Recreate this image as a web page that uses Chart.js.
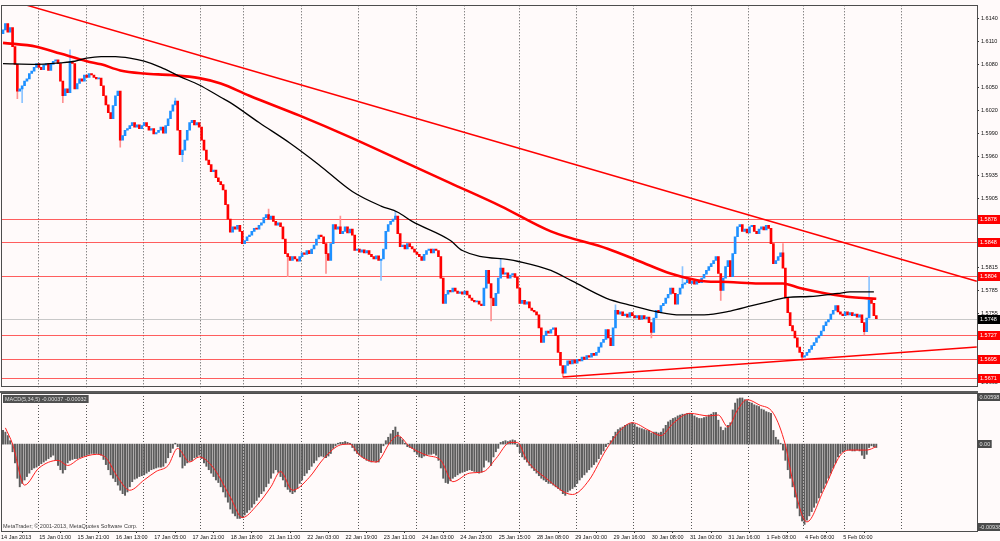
<!DOCTYPE html>
<html>
<head>
<meta charset="utf-8">
<script src="https://cdn.jsdelivr.net/npm/chart.js@4.4.1/dist/chart.umd.min.js"></script>
<style>
  body { margin: 0; background: #fffafa; }
  #wrap { position: relative; width: 1000px; height: 541px; overflow: hidden; }
  #priceChart { position: absolute; left: 0; top: 0; }
  #macdChart { position: absolute; left: 0; top: 391px; }
</style>
</head>
<body>
<div id="wrap">
  <canvas id="priceChart" width="1000" height="393"></canvas>
  <canvas id="macdChart" width="1000" height="150"></canvas>
</div>
<script>
// GBPUSD H1 closes, one per bar starting 14 Jan 2013
var firstOpen = 1.6120;
var closes = [
  1.6125, 1.6133, 1.6122, 1.6128, 1.6103, 1.6080, 1.6045, 1.6048, 1.6052, 1.6058,
  1.6061, 1.6068, 1.6071, 1.6076, 1.6081, 1.6076, 1.6073, 1.6079, 1.6081, 1.6072,
  1.6080, 1.6084, 1.6086, 1.6081, 1.6058, 1.6039, 1.6048, 1.6043, 1.6084, 1.6081,
  1.6048, 1.6055, 1.6061, 1.6058, 1.6066, 1.6063, 1.6068, 1.6066, 1.6063, 1.6061,
  1.6062, 1.6052, 1.6039, 1.6027, 1.6017, 1.6009, 1.6026, 1.6039, 1.6045, 1.5981,
  1.5987, 1.5994, 1.5996, 1.6000, 1.6004, 1.5998, 1.6001, 1.5996, 1.6000, 1.6004,
  1.5999, 1.5994, 1.5996, 1.5989, 1.5991, 1.5994, 1.5998, 1.5990, 1.6000, 1.6009,
  1.6019, 1.6027, 1.6032, 1.5994, 1.5962, 1.5968, 1.5981, 1.5994, 1.6004, 1.6007,
  1.6001, 1.6004, 1.5998, 1.5981, 1.5968, 1.5955, 1.5949, 1.5940, 1.5942, 1.5932,
  1.5927, 1.5923, 1.5916, 1.5897, 1.5878, 1.5861, 1.5868, 1.5865, 1.5870, 1.5862,
  1.5846, 1.5850, 1.5855, 1.5857, 1.5862, 1.5866, 1.5865, 1.5870, 1.5873, 1.5880,
  1.5884, 1.5878, 1.5882, 1.5875, 1.5870, 1.5873, 1.5868, 1.5852, 1.5833, 1.5829,
  1.5824, 1.5829, 1.5826, 1.5823, 1.5829, 1.5834, 1.5832, 1.5837, 1.5833, 1.5839,
  1.5844, 1.5852, 1.5857, 1.5855, 1.5846, 1.5833, 1.5824, 1.5846, 1.5871, 1.5865,
  1.5868, 1.5859, 1.5862, 1.5868, 1.5860, 1.5865, 1.5857, 1.5837, 1.5839, 1.5835,
  1.5838, 1.5834, 1.5837, 1.5832, 1.5829, 1.5826, 1.5830, 1.5824, 1.5826, 1.5839,
  1.5862, 1.5871, 1.5875, 1.5878, 1.5882, 1.5859, 1.5842, 1.5844, 1.5839, 1.5846,
  1.5842, 1.5839, 1.5835, 1.5832, 1.5829, 1.5824, 1.5832, 1.5837, 1.5839, 1.5834,
  1.5839, 1.5837, 1.5829, 1.5801, 1.5768, 1.5780, 1.5785, 1.5783, 1.5788, 1.5784,
  1.5781, 1.5783, 1.5780, 1.5784, 1.5779, 1.5775, 1.5772, 1.5770, 1.5771, 1.5767,
  1.5765, 1.5788, 1.5811, 1.5794, 1.5775, 1.5765, 1.5781, 1.5801, 1.5814, 1.5806,
  1.5808, 1.5801, 1.5805, 1.5807, 1.5802, 1.5788, 1.5768, 1.5772, 1.5767, 1.5770,
  1.5762, 1.5759, 1.5757, 1.5753, 1.5736, 1.5717, 1.5726, 1.5732, 1.5729, 1.5734,
  1.5736, 1.5726, 1.5704, 1.5687, 1.5677, 1.5687, 1.5693, 1.5689, 1.5694, 1.5690,
  1.5695, 1.5693, 1.5698, 1.5695, 1.5700, 1.5698, 1.5703, 1.5700, 1.5704, 1.5711,
  1.5717, 1.5721, 1.5734, 1.5723, 1.5713, 1.5736, 1.5759, 1.5754, 1.5757, 1.5752,
  1.5754, 1.5750, 1.5756, 1.5752, 1.5749, 1.5752, 1.5747, 1.5752, 1.5748, 1.5750,
  1.5743, 1.5730, 1.5749, 1.5759, 1.5756, 1.5765, 1.5768, 1.5775, 1.5780, 1.5788,
  1.5781, 1.5767, 1.5780, 1.5788, 1.5793, 1.5795, 1.5799, 1.5794, 1.5797, 1.5793,
  1.5798, 1.5795, 1.5801, 1.5806, 1.5811, 1.5816, 1.5820, 1.5824, 1.5829, 1.5807,
  1.5785, 1.5801, 1.5816, 1.5824, 1.5803, 1.5833, 1.5855, 1.5868, 1.5871, 1.5862,
  1.5865, 1.5860, 1.5868, 1.5870, 1.5862, 1.5859, 1.5865, 1.5868, 1.5864, 1.5870,
  1.5866, 1.5846, 1.5820, 1.5824, 1.5829, 1.5834, 1.5814, 1.5775, 1.5756, 1.5739,
  1.5732, 1.5723, 1.5711, 1.5704, 1.5698, 1.5700, 1.5704, 1.5708, 1.5713, 1.5717,
  1.5723, 1.5726, 1.5732, 1.5739, 1.5744, 1.5747, 1.5754, 1.5759, 1.5765, 1.5757,
  1.5754, 1.5752, 1.5757, 1.5753, 1.5756, 1.5752, 1.5754, 1.5750, 1.5753, 1.5743,
  1.5731, 1.5749, 1.5772, 1.5768, 1.5752, 1.5748
];
// visible shadows (bar index, price at the wick tip)
var wickBars = [6, 8, 25, 28, 49, 72, 75, 111, 119, 135, 141, 158, 164, 183, 204, 208, 234, 256, 271, 284, 300, 326, 334, 360, 362];
var wickTips = [1.6035, 1.6030, 1.6030, 1.6099, 1.5972, 1.6036, 1.5953, 1.5891, 1.5803, 1.5807, 1.5882, 1.5798, 1.5888, 1.5826, 1.5745, 1.5826, 1.5672, 1.5766, 1.5723, 1.5816, 1.5772, 1.5846, 1.5694, 1.5727, 1.5803];

// moving averages (bar index, price)
var maRedX = [0, 14, 24, 35, 41, 49, 59, 70, 82, 91, 103, 124, 145, 166, 187, 208, 229, 253, 266, 279, 293, 303, 316, 326, 333, 344, 355, 365];
var maRedY = [1.6108, 1.6103, 1.6094, 1.6084, 1.6080, 1.6072, 1.6068, 1.6066, 1.6062, 1.6055, 1.6039, 1.6013, 1.5985, 1.5955, 1.5925, 1.5895, 1.5862, 1.5839, 1.5823, 1.5807, 1.5797, 1.5796, 1.5794, 1.5794, 1.5788, 1.5781, 1.5776, 1.5774];
var maBlackX = [0, 14, 24, 30, 35, 41, 47, 53, 59, 66, 74, 82, 91, 95, 107, 120, 132, 146, 158, 165, 171, 187, 192, 215, 229, 238, 252, 263, 275, 283, 293, 304, 313, 321, 328, 337, 349, 354, 364];
var maBlackY = [1.6081, 1.6080, 1.6082, 1.6084, 1.6088, 1.6090, 1.6090, 1.6088, 1.6084, 1.6076, 1.6064, 1.6053, 1.6037, 1.6030, 1.6004, 1.5977, 1.5949, 1.5914, 1.5895, 1.5887, 1.5875, 1.5850, 1.5837, 1.5823, 1.5811, 1.5797, 1.5775, 1.5765, 1.5756, 1.5753, 1.5753, 1.5758, 1.5765, 1.5771, 1.5776, 1.5777, 1.5781, 1.5783, 1.5783];

// trend lines drawn on the chart
var trendDownX = [9, 407];
var trendDownY = [1.6158, 1.5797];
var trendUpX = [234, 407];
var trendUpY = [1.5672, 1.5711];

// horizontal levels and current bid
var levels = [1.5878, 1.5848, 1.5804, 1.5727, 1.5695, 1.5671];
var bidPrice = 1.5748;
var priceTicks = [1.6140, 1.6110, 1.6080, 1.6050, 1.6020, 1.5990, 1.5960, 1.5935, 1.5905, 1.5815, 1.5785, 1.5755, 1.5665];

// MACD(5,34,5) main histogram, in 0.0001 units
var macdMain = [
  16, 14, 10, 4, -9, -22, -40, -50, -46, -42,
  -38, -34, -30, -28, -27, -25, -23, -21, -19, -17,
  -15, -13, -19, -25, -30, -34, -30, -22, -19, -18,
  -17, -17, -16, -15, -14, -13, -12, -11, -11, -11,
  -12, -13, -18, -24, -30, -36, -40, -44, -48, -54,
  -58, -60, -56, -50, -44, -41, -40, -38, -37, -36,
  -34, -32, -30, -29, -28, -27, -27, -26, -22, -16,
  -10, -5, 1, -3, -15, -28, -25, -22, -20, -19,
  -16, -15, -13, -17, -22, -26, -30, -34, -38, -42,
  -45, -50, -56, -62, -68, -76, -81, -84, -87, -87,
  -86, -83, -80, -77, -74, -70, -66, -62, -58, -55,
  -50, -46, -40, -34, -30, -33, -38, -42, -50, -53,
  -56, -58, -56, -52, -46, -42, -37, -34, -30, -26,
  -22, -19, -15, -14, -15, -16, -14, -11, -5, -2,
  1, 2, 2, 3, 2, 1, -4, -8, -11, -13,
  -15, -17, -19, -20, -21, -20, -21, -21, -10, -2,
  4, 8, 12, 16, 20, 14, 8, 5, 1, -3,
  -4, -5, -9, -12, -15, -16, -14, -13, -12, -12,
  -11, -13, -19, -28, -40, -45, -46, -43, -40, -38,
  -36, -34, -33, -32, -31, -30, -31, -32, -33, -34,
  -33, -27, -19, -21, -25, -15, -9, -5, 2, 3,
  4, 3, 4, 5, 4, -3, -10, -15, -18, -21,
  -25, -28, -31, -34, -37, -40, -42, -44, -46, -46,
  -48, -50, -52, -54, -58, -60, -56, -54, -52, -50,
  -46, -42, -39, -36, -33, -30, -27, -24, -21, -17,
  -12, -8, -3, 1, 4, 9, 14, 17, 19, 20,
  22, 23, 24, 25, 23, 20, 19, 18, 17, 16,
  16, 13, 14, 14, 13, 14, 18, 22, 26, 28,
  30, 31, 33, 34, 35, 35, 36, 36, 35, 33,
  31, 30, 30, 31, 32, 34, 35, 37, 37, 28,
  20, 16, 19, 22, 25, 40, 48, 53, 54, 54,
  52, 51, 49, 48, 46, 45, 44, 41, 40, 38,
  37, 36, 16, 8, 5, 1, -7, -19, -30, -40,
  -50, -62, -75, -84, -90, -94, -89, -84, -79, -74,
  -69, -63, -57, -52, -46, -40, -34, -28, -22, -15,
  -11, -9, -7, -7, -7, -8, -8, -7, -8, -13,
  -17, -12, -4, -2, -3, -4
];
// signal line, read at turning points (bar index, 0.0001 units)
var signalX = [1, 4, 9, 15, 23, 27, 32, 39, 43, 48, 53, 59, 64, 69, 73, 74, 78, 82, 88, 95, 100, 106, 112, 116, 121, 128, 134, 141, 145, 149, 156, 162, 165, 170, 177, 183, 188, 195, 201, 206, 212, 215, 219, 227, 238, 245, 252, 258, 263, 270, 275, 280, 287, 295, 299, 303, 307, 311, 316, 322, 327, 330, 336, 343, 350, 354, 361, 365];
var signalY = [19, 0, -48, -28, -19, -25, -17, -12, -16, -39, -54, -42, -32, -25, -5, -7, -21, -15, -28, -62, -86, -72, -50, -32, -54, -39, -17, -1, 0, -13, -21, 3, 10, -3, -13, -19, -44, -34, -32, -17, 2, 2, -19, -40, -59, -42, -7, 16, 25, 16, 10, 24, 36, 33, 34, 20, 40, 52, 46, 36, -1, -42, -91, -54, -13, -7, -7, -3];
var macdScaleLabels = ['0.00598', '0.00', '-0.00938'];
var macdScaleValues = [59.8, 0, -101.7];

// time axis
var labelBars = [0, 16, 32, 48, 64, 80, 96, 112, 128, 144, 160, 176, 192, 208, 224, 240, 256, 272, 288, 304, 320, 336, 352];
var dateLabels = ['14 Jan 2013', '15 Jan 01:00', '15 Jan 21:00', '16 Jan 13:00', '17 Jan 05:00', '17 Jan 21:00',
  '18 Jan 18:00', '21 Jan 11:00', '22 Jan 03:00', '22 Jan 19:00', '23 Jan 11:00', '24 Jan 03:00', '24 Jan 23:00',
  '25 Jan 15:00', '28 Jan 08:00', '29 Jan 00:00', '29 Jan 16:00', '30 Jan 08:00', '31 Jan 00:00', '31 Jan 16:00',
  '1 Feb 08:00', '4 Feb 08:00', '5 Feb 00:00'];
var sepBars = [14.5, 34.5, 58.5, 82.5, 100.5, 124.5, 148.5, 172.5, 192.5, 215.5, 239.5, 263.5, 287.5, 311.5, 334.5, 351.5, 375.5];

var xMin = -0.84, xMax = 407.1;
var FONT = '"Liberation Sans", Arial, sans-serif';
Chart.defaults.font.family = FONT;
Chart.defaults.font.size = 5.5;
Chart.defaults.color = '#000';

function pairs(xs, ys) {
  return xs.map(function (x, k) { return { x: x, y: ys[k] }; });
}

function openOf(i) {
  return i == 0 ? firstOpen : closes[i - 1];
}

function buildCandles() {
  var bodies = [], colors = [];
  for (var i = 0; i < closes.length; i++) {
    var open = openOf(i);
    bodies.push({ x: i, y: [open, closes[i]] });
    colors.push(closes[i] >= open ? '#1e90ff' : '#ff0000');
  }
  return { bodies: bodies, colors: colors };
}

function buildWicks() {
  var segs = [], colors = [];
  wickBars.forEach(function (b, k) {
    var o = openOf(b), c = closes[b], tip = wickTips[k];
    var edge = tip > Math.max(o, c) ? Math.max(o, c) : Math.min(o, c);
    segs.push({ x: b, y: [edge, tip] });
    colors.push(c >= o ? '#8cc4ff' : '#ff9090');
  });
  return { segs: segs, colors: colors };
}

// small coloured price tag on the right axis
function tag(c, text, y, bg, fg) {
  c.fillStyle = bg;
  c.fillRect(978, Math.round(y) - 4, 22, 9);
  c.fillStyle = fg;
  c.font = '5.5px ' + FONT;
  c.textAlign = 'left';
  c.textBaseline = 'middle';
  c.fillText(text, 980, Math.round(y) + 0.5);
}

var bgPlugin = {
  id: 'bg',
  beforeDraw: function (chart) {
    var c = chart.ctx;
    c.save();
    c.fillStyle = '#fffafa';
    c.fillRect(0, 0, chart.width, chart.height);
    c.restore();
  }
};

var sepPlugin = {
  id: 'seps',
  beforeDatasetsDraw: function (chart) {
    var a = chart.chartArea, xs = chart.scales.x, c = chart.ctx;
    c.save();
    c.strokeStyle = '#555';
    c.lineWidth = 1;
    c.setLineDash([1, 2]);
    sepBars.forEach(function (b) {
      var px = Math.round(xs.getPixelForValue(b)) + 0.5;
      c.beginPath();
      c.moveTo(px, a.top);
      c.lineTo(px, a.bottom);
      c.stroke();
    });
    c.restore();
  }
};

var levelPlugin = {
  id: 'levels',
  beforeDatasetsDraw: function (chart) {
    var a = chart.chartArea, ys = chart.scales.y, c = chart.ctx;
    c.save();
    c.lineWidth = 1;
    c.strokeStyle = '#c8c8c8';
    var by = Math.round(ys.getPixelForValue(bidPrice)) + 0.5;
    c.beginPath(); c.moveTo(a.left, by); c.lineTo(a.right, by); c.stroke();
    c.strokeStyle = 'rgba(255,40,40,0.75)';
    levels.forEach(function (v) {
      var py = Math.round(ys.getPixelForValue(v)) + 0.5;
      c.beginPath(); c.moveTo(a.left, py); c.lineTo(a.right, py); c.stroke();
    });
    c.restore();
  },
  afterDraw: function (chart) {
    var a = chart.chartArea, ys = chart.scales.y, c = chart.ctx;
    c.save();
    c.strokeStyle = '#4d4d4d';
    c.lineWidth = 1;
    c.strokeRect(Math.round(a.left) + 0.5, Math.round(a.top) + 0.5, Math.round(a.right - a.left), Math.round(a.bottom - a.top) - 1);
    levels.forEach(function (v) {
      tag(c, v.toFixed(4), ys.getPixelForValue(v), '#ff0000', '#fff');
    });
    tag(c, bidPrice.toFixed(4), ys.getPixelForValue(bidPrice), '#000', '#fff');
    c.restore();
  }
};

var macdPlugin = {
  id: 'macdDeco',
  afterDraw: function (chart) {
    var a = chart.chartArea, ys = chart.scales.y, c = chart.ctx;
    c.save();
    // separator between the two windows
    c.fillStyle = '#5a5a5a';
    c.fillRect(0, 0, a.right + 1, 2);
    c.strokeStyle = '#4d4d4d';
    c.lineWidth = 1;
    c.strokeRect(Math.round(a.left) + 0.5, Math.round(a.top) + 0.5, Math.round(a.right - a.left), Math.round(a.bottom - a.top));
    c.font = '5.5px ' + FONT;
    c.textBaseline = 'middle';
    c.textAlign = 'left';
    // indicator title
    var title = 'MACD(5,34,5) -0.00037 -0.00032';
    c.fillStyle = '#505050';
    c.fillRect(3, 4, c.measureText(title).width + 4, 8);
    c.fillStyle = '#dcdcdc';
    c.fillText(title, 5, 8.5);
    // copyright
    c.fillStyle = '#404040';
    c.fillText('MetaTrader; \u00a9 2001-2013, MetaQuotes Software Corp.', 3, a.bottom - 5);
    // scale labels
    macdScaleValues.forEach(function (v, k) {
      var y = ys.getPixelForValue(v);
      if (k == 0) y = a.top + 4;
      if (k == macdScaleValues.length - 1) y = a.bottom - 4;
      var w = c.measureText(macdScaleLabels[k]).width + 3;
      c.fillStyle = '#4a4a4a';
      c.fillRect(978, Math.round(y) - 4, w, 8);
      c.fillStyle = '#e0e0e0';
      c.fillText(macdScaleLabels[k], 979.5, Math.round(y));
    });
    c.restore();
  }
};

function displayPrice() {
  var candles = buildCandles();
  var wicks = buildWicks();
  var lineStyle = { pointRadius: 0, fill: false, cubicInterpolationMode: 'monotone' };
  new Chart(document.getElementById('priceChart'), {
    type: 'bar',
    data: {
      datasets: [
        Object.assign({ type: 'line', data: pairs(trendDownX, trendDownY), borderColor: '#ff0000', borderWidth: 1.5, order: 1 }, lineStyle),
        Object.assign({ type: 'line', data: pairs(trendUpX, trendUpY), borderColor: '#ff0000', borderWidth: 1.5, order: 1 }, lineStyle),
        Object.assign({ type: 'line', data: pairs(maBlackX, maBlackY), borderColor: '#000', borderWidth: 1.3, order: 2 }, lineStyle),
        Object.assign({ type: 'line', data: pairs(maRedX, maRedY), borderColor: '#ff0000', borderWidth: 2.6, order: 2 }, lineStyle),
        {
          type: 'bar', data: candles.bodies, backgroundColor: candles.colors,
          borderWidth: 0, barThickness: 2, minBarLength: 1, grouped: false, order: 5
        },
        {
          type: 'bar', data: wicks.segs, backgroundColor: wicks.colors,
          borderWidth: 0, barThickness: 1, grouped: false, order: 6
        }
      ]
    },
    options: {
      responsive: false,
      animation: false,
      layout: { padding: { left: 1, top: 3, right: 0, bottom: 2.3 } },
      plugins: { legend: { display: false }, tooltip: { enabled: false } },
      scales: {
        x: { type: 'linear', min: xMin, max: xMax, offset: false, display: false },
        y: {
          position: 'right', min: 1.5658, max: 1.6157,
          afterFit: function (s) { s.width = 23; },
          afterBuildTicks: function (s) { s.ticks = priceTicks.map(function (v) { return { value: v }; }); },
          ticks: { padding: 2, font: { size: 5.5 }, color: '#111', callback: function (v) { return v.toFixed(4); } },
          grid: { drawOnChartArea: false, drawTicks: true, tickLength: 2, color: '#333' },
          border: { display: false }
        }
      }
    },
    plugins: [bgPlugin, sepPlugin, levelPlugin]
  });
}

function displayMacd() {
  var hist = macdMain.map(function (v, i) { return { x: i, y: v }; });
  new Chart(document.getElementById('macdChart'), {
    type: 'bar',
    data: {
      datasets: [
        { type: 'line', data: pairs(signalX, signalY), borderColor: '#ff2020', borderWidth: 1,
          pointRadius: 0, fill: false, cubicInterpolationMode: 'monotone', order: 1 },
        { type: 'bar', data: hist, backgroundColor: '#5c5c5c', borderWidth: 0,
          barThickness: 1.3, grouped: false, order: 5 }
      ]
    },
    options: {
      responsive: false,
      animation: false,
      layout: { padding: { left: 1, top: 2, right: 0, bottom: 0 } },
      plugins: { legend: { display: false }, tooltip: { enabled: false } },
      scales: {
        x: {
          type: 'linear', min: xMin, max: xMax, offset: false,
          afterFit: function (s) { s.height = 10; },
          afterBuildTicks: function (s) { s.ticks = labelBars.map(function (v) { return { value: v }; }); },
          ticks: {
            autoSkip: false, maxRotation: 0, align: 'start', labelOffset: -2, padding: 1,
            font: { size: 5.5 }, color: '#111',
            callback: function (v, k) { return dateLabels[k]; }
          },
          grid: { drawOnChartArea: false, drawTicks: true, tickLength: 2, color: '#333' },
          border: { display: false }
        },
        y: {
          position: 'right', min: -101.7, max: 59.8,
          afterFit: function (s) { s.width = 23; },
          ticks: { display: false },
          grid: { display: false },
          border: { display: false }
        }
      }
    },
    plugins: [bgPlugin, sepPlugin, macdPlugin]
  });
}

displayPrice();
displayMacd();
</script>
</body>
</html>
